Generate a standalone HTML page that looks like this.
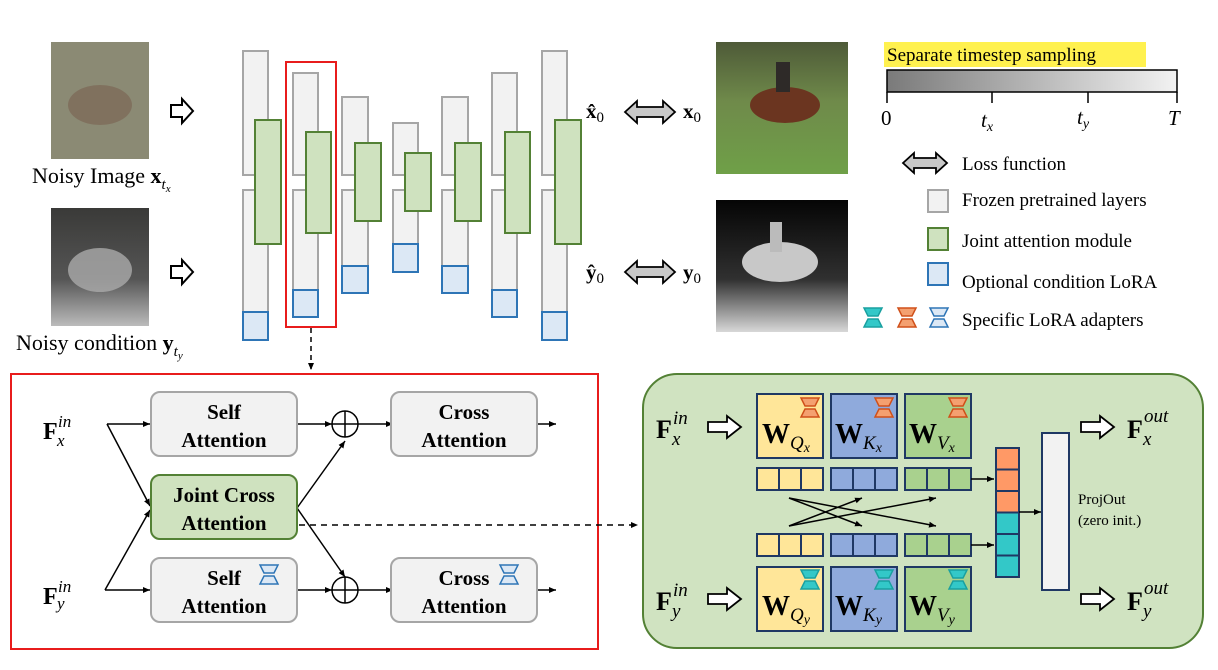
<!DOCTYPE html>
<html><head><meta charset="utf-8"><style>
html,body{margin:0;padding:0;background:#fff}
svg{display:block}
text{font-family:"Liberation Serif",serif}
.b{font-weight:bold}
</style></head><body>
<svg width="1218" height="670" viewBox="0 0 1218 670" xmlns="http://www.w3.org/2000/svg">
<defs>
<linearGradient id="tg" x1="0" x2="1"><stop offset="0" stop-color="#7a7a7a"/><stop offset="1" stop-color="#f2f2f2"/></linearGradient>
<linearGradient id="p1" x1="0" y1="0" x2="0" y2="1"><stop offset="0" stop-color="#4e5a38"/><stop offset="0.45" stop-color="#6f8a4a"/><stop offset="1" stop-color="#6fa048"/></linearGradient>
<linearGradient id="p2" x1="0" y1="0" x2="0" y2="1"><stop offset="0" stop-color="#050505"/><stop offset="0.6" stop-color="#303030"/><stop offset="1" stop-color="#d8d8d8"/></linearGradient>
<linearGradient id="n2" x1="0" y1="0" x2="0" y2="1"><stop offset="0" stop-color="#3a3a38"/><stop offset="0.6" stop-color="#555"/><stop offset="1" stop-color="#bbb"/></linearGradient>
<marker id="ah" markerWidth="8" markerHeight="8" refX="7" refY="4" orient="auto" markerUnits="userSpaceOnUse"><path d="M0,1 L7,4 L0,7 z" fill="#000"/></marker>
<g id="hgO"><path d="M0,0 H18 L14,8 H4 Z M4,11 H14 L18,19 H0 Z" fill="#f4a070" stroke="#d0501a" stroke-width="1.5"/></g>
<g id="hgC"><path d="M0,0 H18 L14,8 H4 Z M4,11 H14 L18,19 H0 Z" fill="#33c8c8" stroke="#1aa0a0" stroke-width="1.5"/></g>
<g id="hgB"><path d="M0,0 H18 L14,8 H4 Z M4,11 H14 L18,19 H0 Z" fill="#dce8f5" stroke="#2e75b6" stroke-width="1.5"/></g>
</defs>

<!-- noisy images -->
<rect x="51" y="42" width="98" height="117" fill="#8b8a74"/>
<ellipse cx="100" cy="105" rx="32" ry="20" fill="#7a6050" opacity="0.6"/>
<rect x="51" y="208" width="98" height="118" fill="url(#n2)"/>
<ellipse cx="100" cy="270" rx="32" ry="22" fill="#aaa" opacity="0.8"/>
<text x="32" y="183" font-size="22">Noisy Image <tspan class="b">x</tspan><tspan font-size="15" font-style="italic" dy="6">t</tspan><tspan font-size="11" font-style="italic" dy="3">x</tspan></text>
<text x="16" y="350" font-size="22">Noisy condition <tspan class="b">y</tspan><tspan font-size="15" font-style="italic" dy="6">t</tspan><tspan font-size="11" font-style="italic" dy="3">y</tspan></text>

<!-- input arrows -->
<path d="M171,105 H182 V99 L193,111 L182,123 V117 H171 Z" fill="#fff" stroke="#000" stroke-width="2"/>
<path d="M171,266 H182 V260 L193,272 L182,284 V278 H171 Z" fill="#fff" stroke="#000" stroke-width="2"/>

<!-- UNet columns -->
<g stroke="#a6a6a6" stroke-width="2" fill="#f2f2f2">
<rect x="243" y="51" width="25" height="124"/><rect x="243" y="190" width="25" height="150"/>
<rect x="293" y="73" width="25" height="102"/><rect x="293" y="190" width="25" height="127"/>
<rect x="342" y="97" width="26" height="78"/><rect x="342" y="190" width="26" height="103"/>
<rect x="393" y="123" width="25" height="52"/><rect x="393" y="190" width="25" height="82"/>
<rect x="442" y="97" width="26" height="78"/><rect x="442" y="190" width="26" height="103"/>
<rect x="492" y="73" width="25" height="102"/><rect x="492" y="190" width="25" height="127"/>
<rect x="542" y="51" width="25" height="124"/><rect x="542" y="190" width="25" height="150"/>
</g>
<g stroke="#2e75b6" stroke-width="2" fill="#dce8f5">
<rect x="243" y="312" width="25" height="28"/>
<rect x="293" y="290" width="25" height="27"/>
<rect x="342" y="266" width="26" height="27"/>
<rect x="393" y="244" width="25" height="28"/>
<rect x="442" y="266" width="26" height="27"/>
<rect x="492" y="290" width="25" height="27"/>
<rect x="542" y="312" width="25" height="28"/>
</g>
<g stroke="#538135" stroke-width="2" fill="#cfe2bf">
<rect x="255" y="120" width="26" height="124"/>
<rect x="306" y="132" width="25" height="101"/>
<rect x="355" y="143" width="26" height="78"/>
<rect x="405" y="153" width="26" height="58"/>
<rect x="455" y="143" width="26" height="78"/>
<rect x="505" y="132" width="25" height="101"/>
<rect x="555" y="120" width="26" height="124"/>
</g>
<rect x="286" y="62" width="50" height="265" fill="none" stroke="#e81c1c" stroke-width="2"/>
<line x1="311" y1="328" x2="311" y2="370" stroke="#000" stroke-width="1.5" stroke-dasharray="5,4" marker-end="url(#ah)"/>

<text x="586" y="118" font-size="21" class="b">x̂<tspan font-size="15" font-weight="normal" dy="4">0</tspan></text>
<text x="586" y="279" font-size="21" class="b">ŷ<tspan font-size="15" font-weight="normal" dy="4">0</tspan></text>
<!-- loss arrows -->
<path d="M625,112 L637,101 V107 H663 V101 L675,112 L663,123 V117 H637 V123 Z" fill="#c8c8c8" stroke="#000" stroke-width="1.8"/>
<path d="M625,272 L637,261 V267 H663 V261 L675,272 L663,283 V277 H637 V283 Z" fill="#c8c8c8" stroke="#000" stroke-width="1.8"/>
<text x="683" y="118" font-size="21" class="b">x<tspan font-size="15" font-weight="normal" dy="4">0</tspan></text>
<text x="683" y="279" font-size="21" class="b">y<tspan font-size="15" font-weight="normal" dy="4">0</tspan></text>

<!-- photos -->
<rect x="716" y="42" width="132" height="132" fill="url(#p1)"/>
<ellipse cx="785" cy="105" rx="35" ry="18" fill="#6b3520"/>
<rect x="776" y="62" width="14" height="30" fill="#2e2a28"/>
<rect x="716" y="200" width="132" height="132" fill="url(#p2)"/>
<ellipse cx="780" cy="262" rx="38" ry="20" fill="#c8c8c8"/>
<rect x="770" y="222" width="12" height="30" fill="#bbb"/>

<!-- timestep -->
<rect x="884" y="42" width="262" height="25" fill="#fff14f"/>
<text x="887" y="61" font-size="19">Separate timestep sampling</text>
<rect x="887" y="70" width="290" height="22" fill="url(#tg)" stroke="#000" stroke-width="1.5"/>
<g stroke="#000" stroke-width="1.5"><line x1="887" y1="92" x2="887" y2="103"/><line x1="992" y1="92" x2="992" y2="103"/><line x1="1088" y1="92" x2="1088" y2="103"/><line x1="1177" y1="92" x2="1177" y2="103"/></g>
<g font-size="21" font-style="italic"><text x="881" y="125" font-style="normal">0</text><text x="981" y="127">t<tspan font-size="14" dy="4">x</tspan></text><text x="1077" y="124">t<tspan font-size="14" dy="4">y</tspan></text><text x="1168" y="125">T</text></g>

<!-- legend -->
<path d="M903,163 L914,153 V158 H936 V153 L947,163 L936,173 V168 H914 V173 Z" fill="#c8c8c8" stroke="#000" stroke-width="1.8"/>
<text x="962" y="170" font-size="19">Loss function</text>
<rect x="928" y="190" width="20" height="22" fill="#f2f2f2" stroke="#a6a6a6" stroke-width="2"/>
<text x="962" y="206" font-size="19">Frozen pretrained layers</text>
<rect x="928" y="228" width="20" height="22" fill="#cfe2bf" stroke="#538135" stroke-width="2"/>
<text x="962" y="247" font-size="19">Joint attention module</text>
<rect x="928" y="263" width="20" height="22" fill="#dce8f5" stroke="#2e75b6" stroke-width="2"/>
<text x="962" y="288" font-size="19">Optional condition LoRA</text>
<use href="#hgC" x="864" y="308"/><use href="#hgO" x="898" y="308"/><use href="#hgB" x="930" y="308"/>
<text x="962" y="326" font-size="19">Specific LoRA adapters</text>

<!-- bottom-left red box -->
<rect x="11" y="374" width="587" height="275" fill="none" stroke="#e81c1c" stroke-width="2"/>
<g font-size="24" class="b">
<text x="43" y="439">F</text><text x="58" y="427" font-size="17" font-style="italic" font-weight="normal">in</text><text x="57" y="446" font-size="17" font-style="italic" font-weight="normal">x</text>
<text x="43" y="604">F</text><text x="58" y="592" font-size="17" font-style="italic" font-weight="normal">in</text><text x="57" y="609" font-size="17" font-style="italic" font-weight="normal">y</text>
</g>
<g stroke="#000" stroke-width="1.5" fill="none">
<line x1="107" y1="424" x2="150" y2="424" marker-end="url(#ah)"/>
<line x1="107" y1="424" x2="150" y2="506" marker-end="url(#ah)"/>
<line x1="105" y1="590" x2="150" y2="510" marker-end="url(#ah)"/>
<line x1="105" y1="590" x2="150" y2="590" marker-end="url(#ah)"/>
<line x1="297" y1="424" x2="332" y2="424" marker-end="url(#ah)"/>
<line x1="358" y1="424" x2="393" y2="424" marker-end="url(#ah)"/>
<line x1="537" y1="424" x2="556" y2="424" marker-end="url(#ah)"/>
<line x1="297" y1="508" x2="345" y2="441" marker-end="url(#ah)"/>
<line x1="297" y1="508" x2="345" y2="577" marker-end="url(#ah)"/>
<line x1="297" y1="590" x2="332" y2="590" marker-end="url(#ah)"/>
<line x1="358" y1="590" x2="393" y2="590" marker-end="url(#ah)"/>
<line x1="537" y1="590" x2="556" y2="590" marker-end="url(#ah)"/>
<circle cx="345" cy="424" r="13"/><line x1="332" y1="424" x2="358" y2="424"/><line x1="345" y1="411" x2="345" y2="437"/>
<circle cx="345" cy="590" r="13"/><line x1="332" y1="590" x2="358" y2="590"/><line x1="345" y1="577" x2="345" y2="603"/>
<line x1="299" y1="525" x2="638" y2="525" stroke-dasharray="6,5" marker-end="url(#ah)"/>
</g>
<g stroke="#a6a6a6" stroke-width="2" fill="#f2f2f2">
<rect x="151" y="392" width="146" height="64" rx="9"/>
<rect x="391" y="392" width="146" height="64" rx="9"/>
<rect x="151" y="558" width="146" height="64" rx="9"/>
<rect x="391" y="558" width="146" height="64" rx="9"/>
</g>
<rect x="151" y="475" width="146" height="64" rx="9" fill="#cfe2bf" stroke="#538135" stroke-width="2"/>
<g font-size="21" class="b" text-anchor="middle">
<text x="224" y="419">Self</text><text x="224" y="447">Attention</text>
<text x="464" y="419">Cross</text><text x="464" y="447">Attention</text>
<text x="224" y="502">Joint Cross</text><text x="224" y="530">Attention</text>
<text x="224" y="585">Self</text><text x="224" y="613">Attention</text>
<text x="464" y="585">Cross</text><text x="464" y="613">Attention</text>
</g>
<use href="#hgB" x="260" y="565"/><use href="#hgB" x="500" y="565"/>

<!-- right green box -->
<rect x="643" y="374" width="560" height="274" rx="34" fill="#d0e3c1" stroke="#538135" stroke-width="2"/>
<g font-size="26" class="b">
<text x="656" y="438">F</text><text x="673" y="424" font-size="19" font-style="italic" font-weight="normal">in</text><text x="672" y="445" font-size="19" font-style="italic" font-weight="normal">x</text>
<text x="656" y="610">F</text><text x="673" y="596" font-size="19" font-style="italic" font-weight="normal">in</text><text x="672" y="617" font-size="19" font-style="italic" font-weight="normal">y</text>
<text x="1127" y="438">F</text><text x="1144" y="422" font-size="19" font-style="italic" font-weight="normal">out</text><text x="1143" y="445" font-size="19" font-style="italic" font-weight="normal">x</text>
<text x="1127" y="610">F</text><text x="1144" y="594" font-size="19" font-style="italic" font-weight="normal">out</text><text x="1143" y="617" font-size="19" font-style="italic" font-weight="normal">y</text>
</g>
<g fill="#fff" stroke="#000" stroke-width="1.8">
<path d="M708,422 H727 V416 L741,427 L727,438 V432 H708 Z"/>
<path d="M708,594 H727 V588 L741,599 L727,610 V604 H708 Z"/>
<path d="M1081,422 H1100 V416 L1114,427 L1100,438 V432 H1081 Z"/>
<path d="M1081,594 H1100 V588 L1114,599 L1100,610 V604 H1081 Z"/>
</g>
<g stroke="#1f3864" stroke-width="2">
<rect x="757" y="394" width="66" height="64" fill="#ffe699"/>
<rect x="831" y="394" width="66" height="64" fill="#8faadc"/>
<rect x="905" y="394" width="66" height="64" fill="#a9d18e"/>
<rect x="757" y="567" width="66" height="64" fill="#ffe699"/>
<rect x="831" y="567" width="66" height="64" fill="#8faadc"/>
<rect x="905" y="567" width="66" height="64" fill="#a9d18e"/>
<rect x="757" y="468" width="66" height="22" fill="#ffe699"/><line x1="779" y1="468" x2="779" y2="490"/><line x1="801" y1="468" x2="801" y2="490"/>
<rect x="831" y="468" width="66" height="22" fill="#8faadc"/><line x1="853" y1="468" x2="853" y2="490"/><line x1="875" y1="468" x2="875" y2="490"/>
<rect x="905" y="468" width="66" height="22" fill="#a9d18e"/><line x1="927" y1="468" x2="927" y2="490"/><line x1="949" y1="468" x2="949" y2="490"/>
<rect x="757" y="534" width="66" height="22" fill="#ffe699"/><line x1="779" y1="534" x2="779" y2="556"/><line x1="801" y1="534" x2="801" y2="556"/>
<rect x="831" y="534" width="66" height="22" fill="#8faadc"/><line x1="853" y1="534" x2="853" y2="556"/><line x1="875" y1="534" x2="875" y2="556"/>
<rect x="905" y="534" width="66" height="22" fill="#a9d18e"/><line x1="927" y1="534" x2="927" y2="556"/><line x1="949" y1="534" x2="949" y2="556"/>
<rect x="996" y="448" width="23" height="21.5" fill="#ff9966"/><rect x="996" y="469.5" width="23" height="21.5" fill="#ff9966"/><rect x="996" y="491" width="23" height="21.5" fill="#ff9966"/>
<rect x="996" y="512.5" width="23" height="21.5" fill="#33c8c8"/><rect x="996" y="534" width="23" height="21.5" fill="#33c8c8"/><rect x="996" y="555.5" width="23" height="21.5" fill="#33c8c8"/>
<rect x="1042" y="433" width="27" height="157" fill="#f2f2f2"/>
</g>
<use href="#hgO" x="801" y="398"/><use href="#hgO" x="875" y="398"/><use href="#hgO" x="949" y="398"/>
<use href="#hgC" x="801" y="570"/><use href="#hgC" x="875" y="570"/><use href="#hgC" x="949" y="570"/>
<g font-size="28" class="b">
<text x="762" y="443">W<tspan font-size="19" font-style="italic" font-weight="normal" dy="6">Q</tspan><tspan font-size="14" font-style="italic" font-weight="normal" dy="3">x</tspan></text>
<text x="835" y="443">W<tspan font-size="19" font-style="italic" font-weight="normal" dy="6">K</tspan><tspan font-size="14" font-style="italic" font-weight="normal" dy="3">x</tspan></text>
<text x="909" y="443">W<tspan font-size="19" font-style="italic" font-weight="normal" dy="6">V</tspan><tspan font-size="14" font-style="italic" font-weight="normal" dy="3">x</tspan></text>
<text x="762" y="615">W<tspan font-size="19" font-style="italic" font-weight="normal" dy="6">Q</tspan><tspan font-size="14" font-style="italic" font-weight="normal" dy="3">y</tspan></text>
<text x="835" y="615">W<tspan font-size="19" font-style="italic" font-weight="normal" dy="6">K</tspan><tspan font-size="14" font-style="italic" font-weight="normal" dy="3">y</tspan></text>
<text x="909" y="615">W<tspan font-size="19" font-style="italic" font-weight="normal" dy="6">V</tspan><tspan font-size="14" font-style="italic" font-weight="normal" dy="3">y</tspan></text>
</g>
<g stroke="#000" stroke-width="1.5">
<line x1="789" y1="498" x2="862" y2="526" marker-end="url(#ah)"/>
<line x1="789" y1="498" x2="936" y2="526" marker-end="url(#ah)"/>
<line x1="789" y1="526" x2="862" y2="498" marker-end="url(#ah)"/>
<line x1="789" y1="526" x2="936" y2="498" marker-end="url(#ah)"/>
<line x1="971" y1="479" x2="994" y2="479" marker-end="url(#ah)"/>
<line x1="971" y1="545" x2="994" y2="545" marker-end="url(#ah)"/>
<line x1="1019" y1="512" x2="1041" y2="512" marker-end="url(#ah)"/>
</g>
<text x="1078" y="504" font-size="15">ProjOut</text>
<text x="1078" y="525" font-size="15">(zero init.)</text>
</svg>
</body></html>
